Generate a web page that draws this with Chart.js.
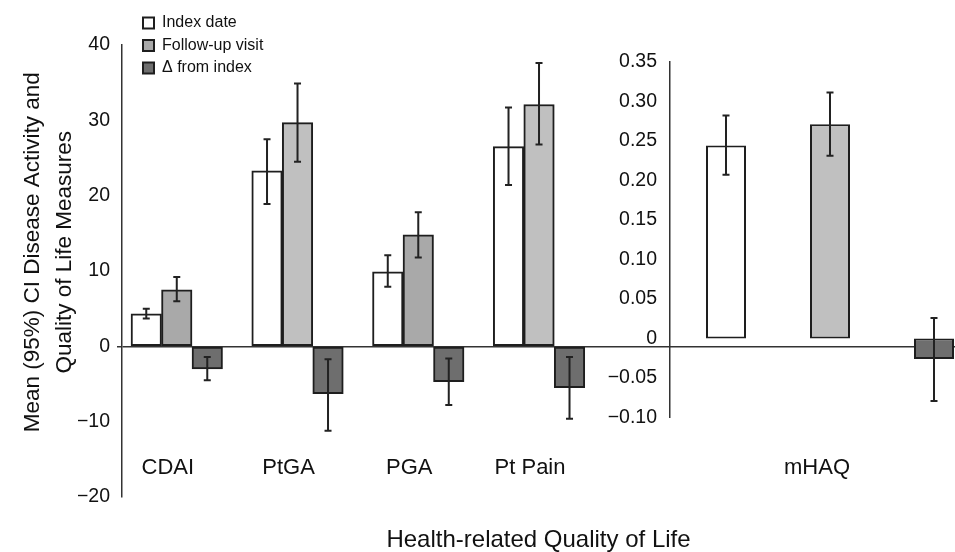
<!DOCTYPE html>
<html><head><meta charset="utf-8">
<script src="https://cdn.jsdelivr.net/npm/chart.js@4.4.1/dist/chart.umd.min.js"></script>
<style>
html,body{margin:0;padding:0;background:#fff;}
#wrap{position:relative;width:955px;height:552px;overflow:hidden;background:#fff;}
#wrap canvas{position:absolute;left:0;top:0;}
</style></head><body>
<div id="wrap"><canvas id="left" width="955" height="552" style="width:955px;height:552px"></canvas><canvas id="right" width="990" height="552" style="width:990px;height:552px"></canvas></div>
<script>
// ---- data ----
const categories = ['CDAI', 'PtGA', 'PGA', 'Pt Pain'];
const seriesNames = ['Index date', 'Follow-up visit', '\u0394 from index'];
const indexValues = [4.3, 23.3, 9.9, 26.5];
const indexLow    = [3.7, 18.9, 7.9, 21.4];
const indexHigh   = [5.0, 27.5, 12.1, 31.7];
const followValues = [7.5, 29.7, 14.8, 32.1];
const followLow    = [6.0, 24.5, 11.8, 26.8];
const followHigh   = [9.2, 34.9, 17.8, 37.6];
const deltaValues = [-3.0, -6.3, -4.7, -5.5];
const deltaLow    = [-4.5, -11.2, -7.8, -9.6];
const deltaHigh   = [-1.4, -1.7, -1.6, -1.4];
const leftAxis = {min: -20, max: 40, step: 10};
const mhaqCategory = ['mHAQ'];
const mhaqValues = [0.244, 0.271, -0.026];
const mhaqLow    = [0.207, 0.231, -0.079];
const mhaqHigh   = [0.282, 0.311, 0.026];
const rightAxis = {min: -0.10, max: 0.35, step: 0.05};
const yTitle = ['Mean (95%) CI Disease Activity and', 'Quality of Life Measures'];
const xTitle = 'Health-related Quality of Life';

// ---- styles ----
const FONT = "'Liberation Sans', Arial, Helvetica, sans-serif";
const INK = '#111';
const EDGE = '#1e1e1e';
const AXIS = '#333';
const fillIndex = '#ffffff';
const followShades = ['#a9a9a9', '#c0c0c0', '#a9a9a9', '#c0c0c0'];
const fillFollowLegend = '#b6b6b6';
const fillFollowRight = '#c0c0c0';
const fillDelta = '#6e6e6e';
const titleLift = '      '; // leading space nudges the rotated title upward

const MINUS = '\u2212';
const fmtInt = v => (v < 0 ? MINUS + Math.abs(v) : String(v));
const fmtDec = v => Math.abs(v) < 1e-9 ? '0' : (v < 0 ? MINUS : '') + Math.abs(v).toFixed(2);

const errorBars = {
  id: 'errorBars',
  afterDatasetsDraw(chart) {
    const ctx = chart.ctx;
    ctx.save();
    ctx.strokeStyle = '#222';
    ctx.lineWidth = 2;
    chart.data.datasets.forEach((ds, i) => {
      if (!ds.errLow) return;
      const meta = chart.getDatasetMeta(i);
      const ys = chart.scales[meta.yAxisID];
      meta.data.forEach((bar, j) => {
        const lo = ds.errLow[j], hi = ds.errHigh[j];
        if (lo == null || hi == null) return;
        const x = bar.x, y1 = ys.getPixelForValue(lo), y2 = ys.getPixelForValue(hi);
        const cap = 3.5;
        ctx.beginPath();
        ctx.moveTo(x, y1); ctx.lineTo(x, y2);
        ctx.moveTo(x - cap, y1); ctx.lineTo(x + cap, y1);
        ctx.moveTo(x - cap, y2); ctx.lineTo(x + cap, y2);
        ctx.stroke();
      });
    });
    ctx.restore();
  }
};

const legendPlace = {
  id: 'legendPlace',
  afterLayout(chart, args, opts) {
    const lg = chart.legend;
    if (!lg) return;
    lg.left = opts.left; lg.top = opts.top;
    lg.right = lg.left + 320; lg.bottom = lg.top + 140;
  }
};

const barStyle = {borderColor: EDGE, borderWidth: 2, borderSkipped: false, barThickness: 30.5};
const toXY = arr => arr.map((v, i) => ({x: i, y: v}));

new Chart(document.getElementById('left'), {
  type: 'bar',
  data: {
    datasets: [
      Object.assign({label: seriesNames[0], data: toXY(indexValues), errLow: indexLow, errHigh: indexHigh,
        backgroundColor: fillIndex}, barStyle),
      Object.assign({label: seriesNames[1], data: toXY(followValues), errLow: followLow, errHigh: followHigh,
        backgroundColor: c => c.type === 'data' ? followShades[c.dataIndex] : fillFollowLegend}, barStyle),
      Object.assign({label: seriesNames[2], data: toXY(deltaValues), errLow: deltaLow, errHigh: deltaHigh,
        backgroundColor: fillDelta}, barStyle)
    ]
  },
  options: {
    responsive: false, animation: false, devicePixelRatio: 1,
    layout: {padding: {top: 45, left: 0, right: 0, bottom: 0}},
    plugins: {
      legend: {position: 'chartArea', align: 'start',
        labels: {boxWidth: 11, boxHeight: 11, padding: 6.5, color: INK, font: {family: FONT, size: 16}}},
      tooltip: {enabled: false},
      title: {display: true, text: xTitle, position: 'bottom', fullSize: false, color: INK,
        font: {family: FONT, size: 24, weight: 'normal', lineHeight: 1}, padding: {top: 31, bottom: 0}},
      legendPlace: {left: 136.5, top: 8.5}
    },
    scales: {
      x: {
        type: 'linear', position: {y: -14}, min: -0.4536, max: 6.445, offset: false,
        grid: {display: false, drawTicks: false, offset: false},
        border: {display: false},
        ticks: {stepSize: 1, includeBounds: false, autoSkip: false, maxRotation: 0, minRotation: 0,
          padding: 3, labelOffset: -9, color: INK, font: {family: FONT, size: 22},
          callback: v => categories[v] ?? ''}
      },
      y: {
        min: leftAxis.min, max: leftAxis.max,
        ticks: {stepSize: leftAxis.step, padding: 7, color: INK, font: {family: FONT, size: 19.5}, callback: fmtInt},
        grid: {drawOnChartArea: true, drawTicks: true, tickLength: 5, lineWidth: 1.5,
          color: c => (c.tick && c.tick.value === 0) ? AXIS : 'rgba(0,0,0,0)'},
        border: {display: true, color: AXIS, width: 1.5},
        title: {display: true, text: yTitle.map(t => titleLift + t), color: INK,
          font: {family: FONT, size: 22.5, lineHeight: 1.42}, padding: {top: 17, bottom: 0}},
        afterFit: s => { s.width = 122; }
      }
    }
  },
  plugins: [errorBars, legendPlace]
});

const rightFills = [fillIndex, fillFollowRight, fillDelta];
new Chart(document.getElementById('right'), {
  type: 'bar',
  data: {
    labels: mhaqCategory,
    datasets: seriesNames.map((name, k) => ({
      label: name, data: [mhaqValues[k]], errLow: [mhaqLow[k]], errHigh: [mhaqHigh[k]],
      backgroundColor: rightFills[k], borderColor: EDGE, borderWidth: 2, borderSkipped: false,
      categoryPercentage: 0.975, barPercentage: 0.3846
    }))
  },
  options: {
    responsive: false, animation: false, devicePixelRatio: 1,
    layout: {padding: {top: 61.7, left: 0, right: 0, bottom: 54.4}},
    plugins: {legend: {display: false}, tooltip: {enabled: false}},
    scales: {
      x: {
        grid: {display: false, drawTicks: false}, border: {display: false},
        ticks: {padding: 37, labelOffset: -13, color: INK, font: {family: FONT, size: 22}},
        afterFit: s => { s.height = 80; }
      },
      y: {
        min: rightAxis.min, max: rightAxis.max,
        ticks: {stepSize: rightAxis.step, padding: 13, color: INK, font: {family: FONT, size: 19.5}, callback: fmtDec},
        grid: {display: false, drawTicks: false},
        border: {display: true, color: AXIS, width: 1.5},
        afterFit: s => { s.width = 670; }
      }
    }
  },
  plugins: [errorBars]
});
</script>
</body></html>
